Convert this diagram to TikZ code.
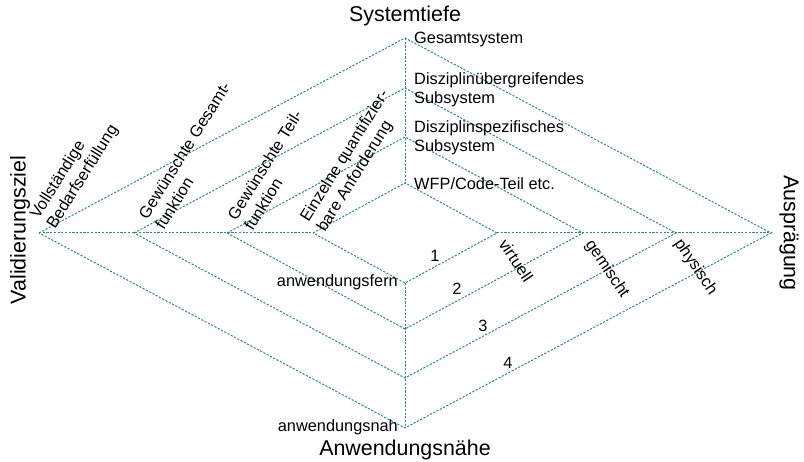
\documentclass[tikz,border=0pt]{standalone}
\usepackage{fontspec}
\setmainfont{Liberation Sans}
\definecolor{gridteal}{HTML}{2A8C7C}
\begin{document}
\begin{tikzpicture}[x=1bp,y=-1bp,
  guide/.style={draw=gridteal, line width=1bp, dash pattern=on 2.2bp off 1.5bp},
  axistitle/.style={font=\fontsize{21.5}{26}\selectfont, inner sep=0pt},
  lbl/.style={font=\fontsize{16.4}{19.4}\selectfont, inner sep=0pt, align=left},
  leftlbl/.style={lbl, rotate=58, anchor=south west},
  rightlbl/.style={lbl, rotate=-56, anchor=base west},
]
\useasboundingbox (0,0) rectangle (804,462);

% vertices of the four nested diamonds (1 = innermost)
\foreach \i/\w/\h in {1/92/50, 2/178/96, 3/271/145, 4/366/195} {
  \coordinate (L\i) at (405-\w,233);
  \coordinate (R\i) at (405+\w,233);
  \coordinate (T\i) at (405,233-\h);
  \coordinate (B\i) at (405,233+\h);
}
\foreach \i in {1,2,3,4}
  \draw[guide] (L\i) -- (T\i) -- (R\i) -- (B\i) -- cycle;

% axis segments outside the innermost diamond
\draw[guide] (L4) -- (L1);
\draw[guide] (R1) -- (R4);
\draw[guide] (T4) -- (T1);
\draw[guide] (B1) -- (B4);

% axis titles
\node[axistitle] (systiefe) at (405,16) {Systemtiefe};
\node[axistitle] (anwnaehe) at (405,450) {Anwendungsnähe};
\node[axistitle, rotate=90] (valziel) at (20,230) {Validierungsziel};
\node[axistitle, rotate=-90] (auspr) at (789,233) {Ausprägung};

% system depth levels
\node[lbl, anchor=west] (gesamt) at (414,39) {Gesamtsystem};
\node[lbl, anchor=west] (uebergr) at (414,90) {Disziplinübergreifendes\\Subsystem};
\node[lbl, anchor=west] (spezif) at (414,138) {Disziplinspezifisches\\Subsystem};
\node[lbl, anchor=west] (wfp) at (414,184) {WFP/Code-Teil etc.};

% application proximity
\node[lbl, anchor=east] (fern) at (398,282) {anwendungsfern};
\node[lbl, anchor=east] (nah) at (398,427) {anwendungsnah};

% validation goals
\node[leftlbl] (vollst) at (58,232) {Vollständige\\Bedarfserfüllung};
\node[leftlbl] (gesfkt) at (164,231) {Gewünschte Gesamt-\\funktion};
\node[leftlbl] (teilfkt) at (253,232) {Gewünschte Teil-\\funktion};
\node[leftlbl] (einzel) at (328,235) {Einzelne quantifizier-\\bare Anforderung};

% realisation types
\node[rightlbl] (virt) at ([shift={(1,11)}]R1) {virtuell};
\node[rightlbl] (gem) at ([shift={(2,11)}]R2) {gemischt};
\node[rightlbl] (phys) at ([shift={(-2,10)}]R3) {physisch};

% diamond numbers
\node[lbl] (n1) at (435,256) {1};
\node[lbl] (n2) at (457,289) {2};
\node[lbl] (n3) at (483,326) {3};
\node[lbl] (n4) at (508,363) {4};
\end{tikzpicture}
\end{document}
